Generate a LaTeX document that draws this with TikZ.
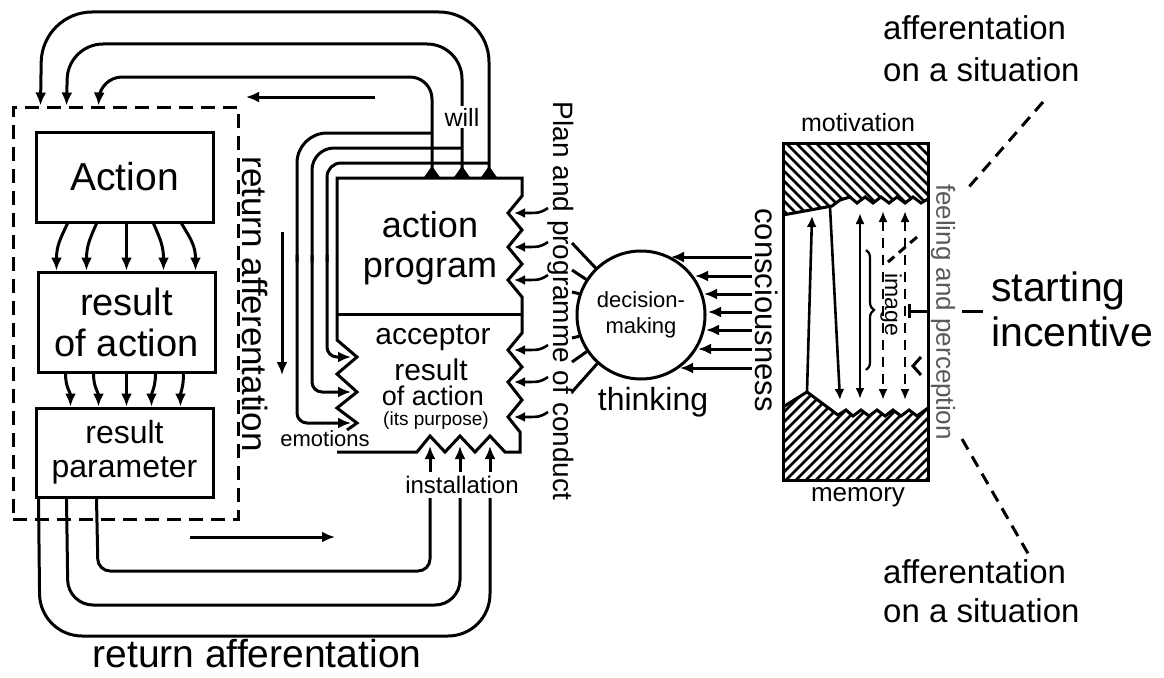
\documentclass[tikz,border=0pt]{standalone}
\usepackage{fontspec}
\setmainfont{Liberation Sans}
\usetikzlibrary{arrows.meta,decorations.pathreplacing}
\definecolor{fpgray}{gray}{0.35}
\begin{document}
\begin{tikzpicture}[x=1pt,y=-1pt,
  ln/.style={line width=3pt},
  arr/.style={line width=3pt,-{Latex[length=13pt,width=11pt]}},
  sarr/.style={line width=2.6pt,-{Latex[length=11pt,width=10pt]}},
  dbl/.style={line width=2.4pt,{Latex[length=11pt,width=9pt]}-{Latex[length=11pt,width=9pt]}},
  box/.style={draw,line width=3pt,inner sep=0pt,align=center},
  grpbox/.style={draw,line width=3pt,dash pattern=on 14pt off 8pt,inner sep=0pt},
  lbl/.style={inner sep=1pt,align=center},
  tight/.style={inner sep=0pt,align=center},
  mask/.style={fill=white,inner sep=2pt},
  hatch/.style={line width=2.8pt},
]
\useasboundingbox (0,0) rectangle (1164,677);

% ---------- left group ----------
\node[grpbox, minimum width=225pt, minimum height=412pt] (grp) at (125.5,313) {};
\node[box, minimum width=177pt, minimum height=90pt, font=\fontsize{39}{44}\selectfont] (act) at (124.5,177) {Action};
\node[box, minimum width=177pt, minimum height=100pt, font=\fontsize{38}{41}\selectfont] (roa) at (126.5,322) {result\\of action};
\node[box, minimum width=177pt, minimum height=89pt, font=\fontsize{32}{34}\selectfont] (rp) at (124.5,452.5) {result\\parameter};

% arrows Action -> result of action
\draw[arr] ([xshift=33pt]act.south west) .. controls +(-7.7,16) and +(0,-24) .. ([xshift=20pt]roa.north west);
\draw[arr] ([xshift=62pt]act.south west) .. controls +(-7,16) and +(0,-24) .. ([xshift=50pt]roa.north west);
\draw[arr] ([xshift=92pt]act.south west) -- ([xshift=90pt]roa.north west);
\draw[arr] ([xshift=119pt]act.south west) .. controls +(7,16) and +(0,-24) .. ([xshift=127pt]roa.north west);
\draw[arr] ([xshift=147pt]act.south west) .. controls +(9.8,16) and +(0,-24) .. ([xshift=159pt]roa.north west);
% arrows result of action -> result parameter
\draw[arr] ([xshift=29pt]roa.south west) .. controls +(0,14) and +(0,-14) .. ([xshift=36pt]rp.north west);
\draw[arr] ([xshift=57pt]roa.south west) .. controls +(0,14) and +(0,-14) .. ([xshift=64pt]rp.north west);
\draw[arr] ([xshift=90pt]roa.south west) -- ([xshift=92pt]rp.north west);
\draw[arr] ([xshift=119pt]roa.south west) .. controls +(0,14) and +(0,-14) .. ([xshift=117pt]rp.north west);
\draw[arr] ([xshift=147pt]roa.south west) .. controls +(0,14) and +(0,-14) .. ([xshift=146pt]rp.north west);

% ---------- action program / acceptor ----------
\coordinate (w1) at (432,178);
\coordinate (w2) at (462,178);
\coordinate (w3) at (489,178);
\coordinate (l1) at (351,357);
\coordinate (l2) at (351,392);
\coordinate (l3) at (351,423);
\coordinate (in1) at (430,446);
\coordinate (in2) at (460,446);
\coordinate (in3) at (490,446);
\coordinate (b1) at (430,498);
\coordinate (b2) at (460,498);
\coordinate (b3) at (490,498);

\draw[ln, line join=miter] (347,430) -- (357,423) -- (337,408) -- (357,392) -- (337,374) -- (357,357) -- (337,340)
  -- (337,178) -- (522,178) -- (522,196) -- (508,213) -- (522,230) -- (508,247) -- (522,264) -- (508,280) -- (522,297)
  -- (522,333) -- (508,350) -- (522,367) -- (508,382) -- (522,400) -- (508,417) -- (520,432) -- (520,452)
  -- (505,452) -- (490,436) -- (475,452) -- (460,436) -- (445,452) -- (430,436) -- (417,452) -- (337,452);
\draw[ln] (337,314) -- (522,314);

\node[lbl, font=\fontsize{36}{40}\selectfont] (ap) at (430,248) {action\\program};
\node[tight, font=\fontsize{30}{32}\selectfont] (acc) at (433,338) {acceptor};
\node[tight, font=\fontsize{30}{32}\selectfont] (acr) at (431,370) {result};
\node[tight, font=\fontsize{27}{29}\selectfont] (aco) at (433,396) {of action};
\node[tight, font=\fontsize{19}{21}\selectfont] (acp) at (436,421) {(its purpose)};
\node[lbl, font=\fontsize{22}{24}\selectfont] (emo) at (325,439) {emotions};

% top loops to the group
\draw[arr, rounded corners=50pt] (w3) -- (489,12) -- (42,12) -- ([xshift=29pt]grp.north west);
\draw[arr, rounded corners=35pt] (w2) -- (462,44) -- (68,44) -- ([xshift=55pt]grp.north west);
\draw[arr, rounded corners=22pt] (w1) -- (432,77) -- (100,77) -- ([xshift=87pt]grp.north west);
\foreach \c in {w1,w2,w3} \fill ([xshift=-8.5pt]\c) -- ([yshift=12pt]\c) -- ([xshift=8.5pt]\c) -- cycle;
\node[lbl, mask, font=\fontsize{25}{27}\selectfont] (will) at (462,117) {will};

% left side lines into acceptor
\draw[ln, rounded corners=30pt] (432,133) -- (297,133) -- (297,262);
\draw[arr, rounded corners=10pt] (297,255) -- (297,423) -- (l3);
\draw[ln, rounded corners=22pt] (462,148) -- (312,148) -- (312,262);
\draw[arr, rounded corners=10pt] (312,255) -- (312,392) -- (l2);
\draw[ln, rounded corners=14pt] (489,163) -- (327,163) -- (327,262);
\draw[arr, rounded corners=10pt] (327,255) -- (327,357) -- (l1);

% bottom loops from result parameter
\draw[ln, rounded corners=12pt] ([xshift=62pt]rp.south west) -- (98,571) -- (430,571) -- (b1);
\draw[ln, rounded corners=25pt] ([xshift=32pt]rp.south west) -- (68,605) -- (460,605) -- (b2);
\draw[ln, rounded corners=42pt] ([xshift=4pt]rp.south west) -- (40,636) -- (490,636) -- (b3);
\draw[arr] (430,472) -- (in1);
\draw[arr] (460,472) -- (in2);
\draw[arr] (490,472) -- (in3);
\node[lbl, font=\fontsize{24}{26}\selectfont] (inst) at (462,485) {installation};

% free arrows
\coordinate (ta) at (375,97); \coordinate (tb) at (246,97);
\draw[arr] (ta) -- (tb);
\coordinate (ba) at (190,537); \coordinate (bb) at (335,537);
\draw[arr] (ba) -- (bb);
\coordinate (da) at (282,232); \coordinate (db) at (282,375);
\draw[arr] (da) -- (db);

\node[lbl, rotate=-90, font=\fontsize{35}{37}\selectfont] (raV) at (255,304) {return afferentation};
\node[tight, font=\fontsize{39}{42}\selectfont] (raB) at (257,654) {return afferentation};

% ---------- decision making ----------
\node[draw, circle, line width=3pt, minimum size=128pt, inner sep=0pt, align=center, font=\fontsize{22}{26}\selectfont] (dm) at (641,315) {decision-\\making};
\draw[ln] (dm.134) -- (572,243);
\draw[ln] (dm.147) -- (572,270);
\draw[ln] (dm.161) -- (572,292);
\draw[ln] (dm.199) -- (572,338);
\draw[ln] (dm.214) -- (572,362);
\draw[ln] (dm.228) -- (572,392);
\foreach \y in {213,247,280,350,382,417}
  \draw[sarr] (548,\y-5) .. controls (540,\y) .. (514,\y);
\node[lbl, rotate=-90, font=\fontsize{28}{30}\selectfont] (plan) at (561,301) {Plan and programme of conduct};
\node[lbl, font=\fontsize{32}{34}\selectfont] (think) at (653,402) {thinking};

\foreach \y/\t in {257/671,276/695,294/704,312/708,330/706,349/698,368/680}
  \draw[arr] (752,\y) -- (\t,\y);
\node[lbl, rotate=-90, font=\fontsize{31}{33}\selectfont] (cons) at (767,310) {consciousness};

% ---------- mind box ----------
\begin{scope}
\clip (783,143) -- (928,143) -- (928,199) -- (921,203) -- (913,197) -- (905,203) -- (897,197) -- (889,203) -- (881,197)
  -- (873,203) -- (865,197) -- (857,203) -- (850,197) -- (840,200) -- (832,206) -- (783,215) -- cycle;
\foreach \i in {-90,-80,...,150} \draw[hatch] (783+\i,140) -- (783+\i+85,225);
\end{scope}
\begin{scope}
\clip (783,407) -- (807,392) -- (838,415) -- (846,410) -- (853,416) -- (861,410) -- (869,416) -- (877,410) -- (885,416)
  -- (893,410) -- (901,416) -- (909,410) -- (917,416) -- (928,408) -- (928,480) -- (783,480) -- cycle;
\foreach \i in {-100,-90,...,150} \draw[hatch] (783+\i,483) -- (783+\i+95,388);
\end{scope}
\draw[ln, line join=miter] (928,199) -- (921,203) -- (913,197) -- (905,203) -- (897,197) -- (889,203) -- (881,197)
  -- (873,203) -- (865,197) -- (857,203) -- (850,197) -- (840,200) -- (832,206) -- (783,215);
\draw[ln, line join=miter] (783,407) -- (807,392) -- (838,415) -- (846,410) -- (853,416) -- (861,410) -- (869,416) -- (877,410) -- (885,416)
  -- (893,410) -- (901,416) -- (909,410) -- (917,416) -- (928,408);
\node[draw, line width=3pt, minimum width=145pt, minimum height=337pt, inner sep=0pt] (mind) at (855.5,311.5) {};

\draw[sarr] (807,392) -- (812,216);
\draw[sarr] (830,207) -- (840,400);
\draw[dbl] (860,213) -- (860,399);
\draw[dbl, dash pattern=on 10pt off 7pt] (883,211) -- (883,400);
\draw[dbl, dash pattern=on 10pt off 7pt] (905,211) -- (905,400);
\draw[line width=2.2pt, decorate, decoration={brace, amplitude=8pt}] (866,250) -- (866,370);
\node[lbl, rotate=-90, font=\fontsize{23}{25}\selectfont] (img) at (891,305) {image};
\draw[ln] (909,304) -- (909,318);
\draw[ln] (909,311) -- (928,311);
\draw[ln] (921,357) -- (913,366) -- (921,375);
\draw[ln, dash pattern=on 9pt off 6pt] (917,237) -- (888,262);

\node[lbl, font=\fontsize{25}{27}\selectfont] (mot) at (858,123) {motivation};
\node[lbl, font=\fontsize{26}{28}\selectfont] (mem) at (858,497) {memory};
\node[lbl, rotate=-90, text=fpgray, font=\fontsize{26}{28}\selectfont] (feel) at (943,312) {feeling and perception};

% ---------- right labels ----------
\node[lbl, anchor=west, align=left, font=\fontsize{33}{42}\selectfont] (aff1) at (882,49) {afferentation\\on a situation};
\node[lbl, anchor=west, align=left, font=\fontsize{41}{45}\selectfont] (start) at (990,309) {starting\\incentive};
\node[lbl, anchor=west, align=left, font=\fontsize{33}{39}\selectfont] (aff2) at (882,591) {afferentation\\on a situation};
\coordinate (d1a) at (1043,102);
\coordinate (d1b) at (968,188);
\draw[ln, dash pattern=on 12pt off 8pt] (d1a) -- (d1b);
\coordinate (d2a) at (962,439);
\coordinate (d2b) at (1030,557);
\draw[ln, dash pattern=on 12pt off 8pt] (d2a) -- (d2b);
\draw[ln] (962,311) -- (983,311);
\end{tikzpicture}
\end{document}
